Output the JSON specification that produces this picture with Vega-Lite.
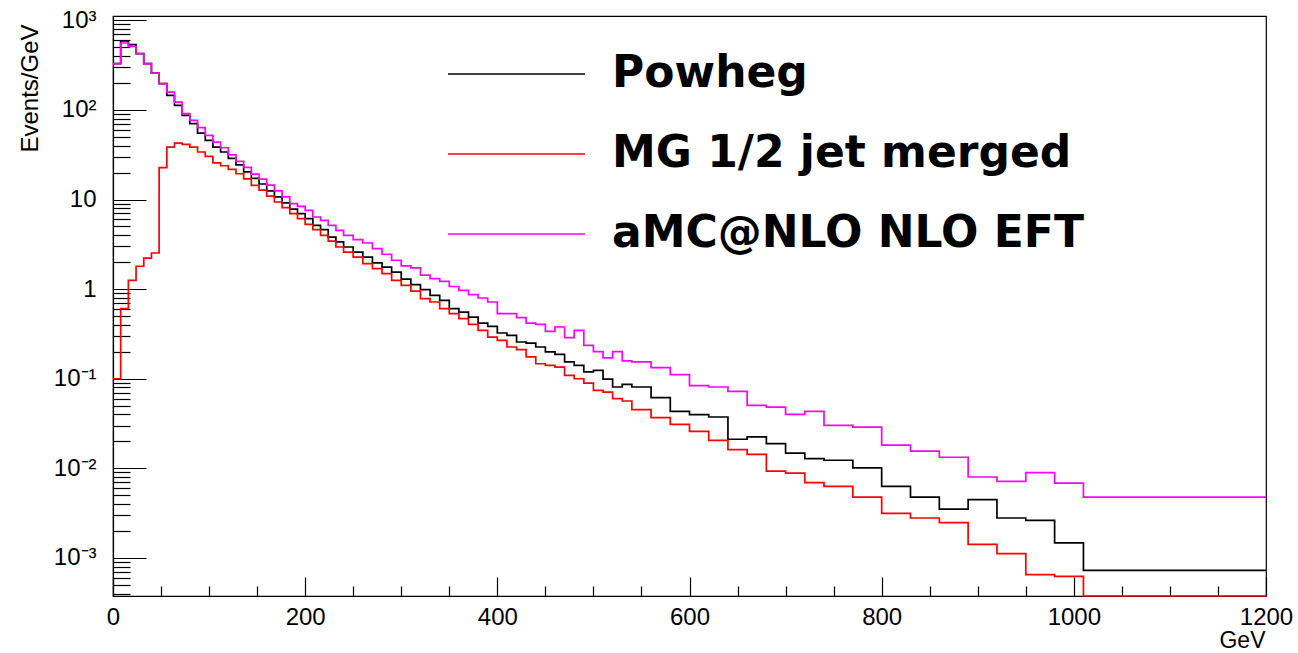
{
"$schema":"https://vega.github.io/schema/vega-lite/v6.json",
"width":1153,"height":580,
"autosize":{"type":"none"},
"padding":{"left":113,"top":16,"right":32,"bottom":57},
"background":"white",
"config":{"view":{"stroke":"#000","strokeWidth":1.2},"font":"Liberation Sans"},
"data":{"values":[
{"s":"Powheg","x":0,"y":329},{"s":"Powheg","x":8,"y":588},{"s":"Powheg","x":16,"y":536},{"s":"Powheg","x":24,"y":425},{"s":"Powheg","x":32,"y":329},{"s":"Powheg","x":40,"y":258},{"s":"Powheg","x":48,"y":197},{"s":"Powheg","x":56,"y":145.5},{"s":"Powheg","x":64,"y":112.5},{"s":"Powheg","x":72,"y":87},
{"s":"Powheg","x":80,"y":70.3},{"s":"Powheg","x":88,"y":55.2},{"s":"Powheg","x":96,"y":45.8},{"s":"Powheg","x":104,"y":38.5},{"s":"Powheg","x":112,"y":33.9},{"s":"Powheg","x":120,"y":28.8},{"s":"Powheg","x":128,"y":24.3},{"s":"Powheg","x":136,"y":20.3},{"s":"Powheg","x":144,"y":17.2},{"s":"Powheg","x":152,"y":14.9},
{"s":"Powheg","x":160,"y":12.5},{"s":"Powheg","x":168,"y":10.7},{"s":"Powheg","x":176,"y":9.19},{"s":"Powheg","x":184,"y":7.83},{"s":"Powheg","x":192,"y":6.96},{"s":"Powheg","x":200,"y":6.12},{"s":"Powheg","x":208,"y":5.15},{"s":"Powheg","x":216,"y":4.61},{"s":"Powheg","x":224,"y":3.81},{"s":"Powheg","x":232,"y":3.36},
{"s":"Powheg","x":240,"y":2.95},{"s":"Powheg","x":250,"y":2.59},{"s":"Powheg","x":260,"y":2.28},{"s":"Powheg","x":270,"y":1.96},{"s":"Powheg","x":280,"y":1.76},{"s":"Powheg","x":290,"y":1.55},{"s":"Powheg","x":300,"y":1.29},{"s":"Powheg","x":310,"y":1.12},{"s":"Powheg","x":320,"y":0.987},{"s":"Powheg","x":330,"y":0.853},
{"s":"Powheg","x":340,"y":0.75},{"s":"Powheg","x":350,"y":0.606},{"s":"Powheg","x":360,"y":0.555},{"s":"Powheg","x":370,"y":0.488},{"s":"Powheg","x":380,"y":0.418},{"s":"Powheg","x":390,"y":0.384},{"s":"Powheg","x":400,"y":0.324},{"s":"Powheg","x":410,"y":0.305},{"s":"Powheg","x":420,"y":0.257},{"s":"Powheg","x":430,"y":0.25},
{"s":"Powheg","x":440,"y":0.226},{"s":"Powheg","x":450,"y":0.199},{"s":"Powheg","x":460,"y":0.187},{"s":"Powheg","x":470,"y":0.154},{"s":"Powheg","x":480,"y":0.141},{"s":"Powheg","x":490,"y":0.119},{"s":"Powheg","x":500,"y":0.124},{"s":"Powheg","x":510,"y":0.0992},{"s":"Powheg","x":520,"y":0.0808},{"s":"Powheg","x":530,"y":0.0866},
{"s":"Powheg","x":540,"y":0.0808},{"s":"Powheg","x":560,"y":0.0615},{"s":"Powheg","x":580,"y":0.0433},{"s":"Powheg","x":600,"y":0.0398},{"s":"Powheg","x":620,"y":0.0374},{"s":"Powheg","x":640,"y":0.0211},{"s":"Powheg","x":660,"y":0.0224},{"s":"Powheg","x":680,"y":0.0189},{"s":"Powheg","x":700,"y":0.0148},{"s":"Powheg","x":720,"y":0.0128},
{"s":"Powheg","x":740,"y":0.0123},{"s":"Powheg","x":770,"y":0.0101},{"s":"Powheg","x":800,"y":0.0063},{"s":"Powheg","x":830,"y":0.00478},{"s":"Powheg","x":860,"y":0.00351},{"s":"Powheg","x":890,"y":0.00447},{"s":"Powheg","x":920,"y":0.00279},{"s":"Powheg","x":950,"y":0.00263},{"s":"Powheg","x":980,"y":0.00147},{"s":"Powheg","x":1010,"y":0.000727},{"s":"Powheg","x":1200,"y":0.000727},
{"s":"MG 1/2 jet merged","x":0,"y":0.1},{"s":"MG 1/2 jet merged","x":8,"y":0.606},{"s":"MG 1/2 jet merged","x":16,"y":1.25},{"s":"MG 1/2 jet merged","x":24,"y":1.8},{"s":"MG 1/2 jet merged","x":32,"y":2.22},{"s":"MG 1/2 jet merged","x":40,"y":2.53},{"s":"MG 1/2 jet merged","x":48,"y":22.7},{"s":"MG 1/2 jet merged","x":56,"y":38.5},{"s":"MG 1/2 jet merged","x":64,"y":42.7},{"s":"MG 1/2 jet merged","x":72,"y":41.3},
{"s":"MG 1/2 jet merged","x":80,"y":38.5},{"s":"MG 1/2 jet merged","x":88,"y":33.9},{"s":"MG 1/2 jet merged","x":96,"y":30.3},{"s":"MG 1/2 jet merged","x":104,"y":25.6},{"s":"MG 1/2 jet merged","x":112,"y":23.8},{"s":"MG 1/2 jet merged","x":120,"y":21.7},{"s":"MG 1/2 jet merged","x":128,"y":19.4},{"s":"MG 1/2 jet merged","x":136,"y":17.0},{"s":"MG 1/2 jet merged","x":144,"y":14.4},{"s":"MG 1/2 jet merged","x":152,"y":12.7},
{"s":"MG 1/2 jet merged","x":160,"y":10.9},{"s":"MG 1/2 jet merged","x":168,"y":9.38},{"s":"MG 1/2 jet merged","x":176,"y":8.12},{"s":"MG 1/2 jet merged","x":184,"y":6.96},{"s":"MG 1/2 jet merged","x":192,"y":6.12},{"s":"MG 1/2 jet merged","x":200,"y":5.29},{"s":"MG 1/2 jet merged","x":208,"y":4.61},{"s":"MG 1/2 jet merged","x":216,"y":3.98},{"s":"MG 1/2 jet merged","x":224,"y":3.44},{"s":"MG 1/2 jet merged","x":232,"y":2.95},
{"s":"MG 1/2 jet merged","x":240,"y":2.59},{"s":"MG 1/2 jet merged","x":250,"y":2.28},{"s":"MG 1/2 jet merged","x":260,"y":1.93},{"s":"MG 1/2 jet merged","x":270,"y":1.69},{"s":"MG 1/2 jet merged","x":280,"y":1.49},{"s":"MG 1/2 jet merged","x":290,"y":1.25},{"s":"MG 1/2 jet merged","x":300,"y":1.1},{"s":"MG 1/2 jet merged","x":310,"y":0.95},{"s":"MG 1/2 jet merged","x":320,"y":0.783},{"s":"MG 1/2 jet merged","x":330,"y":0.718},
{"s":"MG 1/2 jet merged","x":340,"y":0.606},{"s":"MG 1/2 jet merged","x":350,"y":0.533},{"s":"MG 1/2 jet merged","x":360,"y":0.469},{"s":"MG 1/2 jet merged","x":370,"y":0.405},{"s":"MG 1/2 jet merged","x":380,"y":0.347},{"s":"MG 1/2 jet merged","x":390,"y":0.292},{"s":"MG 1/2 jet merged","x":400,"y":0.268},{"s":"MG 1/2 jet merged","x":410,"y":0.226},{"s":"MG 1/2 jet merged","x":420,"y":0.211},{"s":"MG 1/2 jet merged","x":430,"y":0.175},
{"s":"MG 1/2 jet merged","x":440,"y":0.147},{"s":"MG 1/2 jet merged","x":450,"y":0.141},{"s":"MG 1/2 jet merged","x":460,"y":0.135},{"s":"MG 1/2 jet merged","x":470,"y":0.109},{"s":"MG 1/2 jet merged","x":480,"y":0.1},{"s":"MG 1/2 jet merged","x":490,"y":0.0895},{"s":"MG 1/2 jet merged","x":500,"y":0.0742},{"s":"MG 1/2 jet merged","x":510,"y":0.071},{"s":"MG 1/2 jet merged","x":520,"y":0.06},{"s":"MG 1/2 jet merged","x":530,"y":0.0564},
{"s":"MG 1/2 jet merged","x":540,"y":0.0452},{"s":"MG 1/2 jet merged","x":560,"y":0.0368},{"s":"MG 1/2 jet merged","x":580,"y":0.031},{"s":"MG 1/2 jet merged","x":600,"y":0.0259},{"s":"MG 1/2 jet merged","x":620,"y":0.0205},{"s":"MG 1/2 jet merged","x":640,"y":0.0162},{"s":"MG 1/2 jet merged","x":660,"y":0.0143},{"s":"MG 1/2 jet merged","x":680,"y":0.00933},{"s":"MG 1/2 jet merged","x":700,"y":0.00886},{"s":"MG 1/2 jet merged","x":720,"y":0.00692},
{"s":"MG 1/2 jet merged","x":740,"y":0.0063},{"s":"MG 1/2 jet merged","x":770,"y":0.00478},{"s":"MG 1/2 jet merged","x":800,"y":0.00315},{"s":"MG 1/2 jet merged","x":830,"y":0.00279},{"s":"MG 1/2 jet merged","x":860,"y":0.00248},{"s":"MG 1/2 jet merged","x":890,"y":0.00142},{"s":"MG 1/2 jet merged","x":920,"y":0.00112},{"s":"MG 1/2 jet merged","x":950,"y":0.000651},{"s":"MG 1/2 jet merged","x":980,"y":0.000623},{"s":"MG 1/2 jet merged","x":1010,"y":0.0001},{"s":"MG 1/2 jet merged","x":1200,"y":0.0001},
{"s":"aMC@NLO NLO EFT","x":0,"y":329},{"s":"aMC@NLO NLO EFT","x":8,"y":558},{"s":"aMC@NLO NLO EFT","x":16,"y":513},{"s":"aMC@NLO NLO EFT","x":24,"y":425},{"s":"aMC@NLO NLO EFT","x":32,"y":329},{"s":"aMC@NLO NLO EFT","x":40,"y":258},{"s":"aMC@NLO NLO EFT","x":48,"y":197},{"s":"aMC@NLO NLO EFT","x":56,"y":158},{"s":"aMC@NLO NLO EFT","x":64,"y":122},{"s":"aMC@NLO NLO EFT","x":72,"y":91},
{"s":"aMC@NLO NLO EFT","x":80,"y":76.5},{"s":"aMC@NLO NLO EFT","x":88,"y":63.4},{"s":"aMC@NLO NLO EFT","x":96,"y":52.1},{"s":"aMC@NLO NLO EFT","x":104,"y":43.8},{"s":"aMC@NLO NLO EFT","x":112,"y":37.8},{"s":"aMC@NLO NLO EFT","x":120,"y":31.5},{"s":"aMC@NLO NLO EFT","x":128,"y":26.6},{"s":"aMC@NLO NLO EFT","x":136,"y":22.8},{"s":"aMC@NLO NLO EFT","x":144,"y":19.2},{"s":"aMC@NLO NLO EFT","x":152,"y":16.9},
{"s":"aMC@NLO NLO EFT","x":160,"y":14.5},{"s":"aMC@NLO NLO EFT","x":168,"y":12.5},{"s":"aMC@NLO NLO EFT","x":176,"y":10.7},{"s":"aMC@NLO NLO EFT","x":184,"y":9.0},{"s":"aMC@NLO NLO EFT","x":192,"y":8.4},{"s":"aMC@NLO NLO EFT","x":200,"y":7.58},{"s":"aMC@NLO NLO EFT","x":208,"y":6.38},{"s":"aMC@NLO NLO EFT","x":216,"y":5.86},{"s":"aMC@NLO NLO EFT","x":224,"y":5.15},{"s":"aMC@NLO NLO EFT","x":232,"y":4.53},
{"s":"aMC@NLO NLO EFT","x":240,"y":3.98},{"s":"aMC@NLO NLO EFT","x":250,"y":3.57},{"s":"aMC@NLO NLO EFT","x":260,"y":3.27},{"s":"aMC@NLO NLO EFT","x":270,"y":2.83},{"s":"aMC@NLO NLO EFT","x":280,"y":2.45},{"s":"aMC@NLO NLO EFT","x":290,"y":2.1},{"s":"aMC@NLO NLO EFT","x":300,"y":1.82},{"s":"aMC@NLO NLO EFT","x":310,"y":1.73},{"s":"aMC@NLO NLO EFT","x":320,"y":1.43},{"s":"aMC@NLO NLO EFT","x":330,"y":1.31},
{"s":"aMC@NLO NLO EFT","x":340,"y":1.22},{"s":"aMC@NLO NLO EFT","x":350,"y":1.07},{"s":"aMC@NLO NLO EFT","x":360,"y":0.97},{"s":"aMC@NLO NLO EFT","x":370,"y":0.868},{"s":"aMC@NLO NLO EFT","x":380,"y":0.796},{"s":"aMC@NLO NLO EFT","x":390,"y":0.718},{"s":"aMC@NLO NLO EFT","x":400,"y":0.533},{"s":"aMC@NLO NLO EFT","x":410,"y":0.533},{"s":"aMC@NLO NLO EFT","x":420,"y":0.481},{"s":"aMC@NLO NLO EFT","x":430,"y":0.418},
{"s":"aMC@NLO NLO EFT","x":440,"y":0.405},{"s":"aMC@NLO NLO EFT","x":450,"y":0.338},{"s":"aMC@NLO NLO EFT","x":460,"y":0.378},{"s":"aMC@NLO NLO EFT","x":470,"y":0.288},{"s":"aMC@NLO NLO EFT","x":480,"y":0.347},{"s":"aMC@NLO NLO EFT","x":490,"y":0.236},{"s":"aMC@NLO NLO EFT","x":500,"y":0.201},{"s":"aMC@NLO NLO EFT","x":510,"y":0.171},{"s":"aMC@NLO NLO EFT","x":520,"y":0.201},{"s":"aMC@NLO NLO EFT","x":530,"y":0.158},
{"s":"aMC@NLO NLO EFT","x":540,"y":0.154},{"s":"aMC@NLO NLO EFT","x":560,"y":0.133},{"s":"aMC@NLO NLO EFT","x":580,"y":0.111},{"s":"aMC@NLO NLO EFT","x":600,"y":0.0838},{"s":"aMC@NLO NLO EFT","x":620,"y":0.0808},{"s":"aMC@NLO NLO EFT","x":640,"y":0.0724},{"s":"aMC@NLO NLO EFT","x":660,"y":0.0505},{"s":"aMC@NLO NLO EFT","x":680,"y":0.0483},{"s":"aMC@NLO NLO EFT","x":700,"y":0.0401},{"s":"aMC@NLO NLO EFT","x":720,"y":0.0433},
{"s":"aMC@NLO NLO EFT","x":740,"y":0.0302},{"s":"aMC@NLO NLO EFT","x":770,"y":0.0289},{"s":"aMC@NLO NLO EFT","x":800,"y":0.0182},{"s":"aMC@NLO NLO EFT","x":830,"y":0.0156},{"s":"aMC@NLO NLO EFT","x":860,"y":0.0133},{"s":"aMC@NLO NLO EFT","x":890,"y":0.008},{"s":"aMC@NLO NLO EFT","x":920,"y":0.00716},{"s":"aMC@NLO NLO EFT","x":950,"y":0.00895},{"s":"aMC@NLO NLO EFT","x":980,"y":0.00685},{"s":"aMC@NLO NLO EFT","x":1010,"y":0.00478},{"s":"aMC@NLO NLO EFT","x":1200,"y":0.00478}
]},
"mark":{"type":"line","interpolate":"step-after","strokeWidth":1.7,"clip":false},
"encoding":{
"x":{"field":"x","type":"quantitative",
 "scale":{"domain":[0,1200],"nice":false,"zero":false},
 "axis":{"title":"GeV","titleFont":"Liberation Sans","titleFontSize":23,"titleFontWeight":"normal","titleColor":"#000","titleAlign":"right","titleAnchor":"end","titleBaseline":"alphabetic","titleX":1152,"titleY":51,
  "values":[0,50,100,150,200,250,300,350,400,450,500,550,600,650,700,750,800,850,900,950,1000,1050,1100,1150,1200],
  "format":"d","labelExpr":"datum.value % 200 === 0 ? datum.label : ''",
  "labelFont":"Liberation Sans","labelFontSize":24,"labelColor":"#000","labelPadding":28,"labelFlush":false,"labelOverlap":false,
  "tickColor":"#000","tickWidth":1.2,
  "tickSize":{"condition":{"test":"datum.value % 200 === 0","value":-19},"value":-10},
  "domainColor":"#000","domainWidth":1.2,"grid":false}},
"y":{"field":"y","type":"quantitative",
 "scale":{"type":"log","domain":[0.000376,1117],"nice":false,"clamp":true},
 "axis":{"title":"Events/GeV","titleFont":"Liberation Sans","titleFontSize":24,"titleFontWeight":"normal","titleColor":"#000","titleAngle":270,"titleAlign":"right","titleBaseline":"alphabetic","titleX":-76,"titleY":8,
  "values":[0.0004,0.0005,0.0006,0.0007,0.0008,0.0009,0.001,0.002,0.003,0.004,0.005,0.006,0.007,0.008,0.009,0.01,0.02,0.03,0.04,0.05,0.06,0.07,0.08,0.09,0.1,0.2,0.3,0.4,0.5,0.6,0.7,0.8,0.9,1,2,3,4,5,6,7,8,9,10,20,30,40,50,60,70,80,90,100,200,300,400,500,600,700,800,900,1000],
  "labelExpr":"abs(log(datum.value)/LN10 - round(log(datum.value)/LN10)) < 0.000001 ? ['10⁻³','10⁻²','10⁻¹','1','10','10²','10³'][round(log(datum.value)/LN10)+3] : ''",
  "labelFont":"Liberation Sans","labelFontSize":24,"labelColor":"#000","labelPadding":50,"labelFlush":false,"labelOverlap":false,
  "tickColor":"#000","tickWidth":1.2,
  "tickSize":{"condition":{"test":"abs(log(datum.value)/LN10 - round(log(datum.value)/LN10)) < 0.000001","value":-33},"value":-17},
  "domainColor":"#000","domainWidth":1.2,"grid":false}},
"color":{"field":"s","type":"nominal",
 "scale":{"domain":["Powheg","MG 1/2 jet merged","aMC@NLO NLO EFT"],"range":["#000000","#ff0000","#ff00ff"]},
 "legend":{"orient":"none","legendX":450,"legendY":36,"title":null,"padding":0,
  "symbolType":"M-10,0H0","symbolSize":751,"symbolStrokeWidth":1.5,
  "labelFont":"DejaVu Sans","labelFontWeight":"bold","labelFontSize":44,"labelColor":"#000","labelLimit":0,"labelOffset":5,"rowPadding":36}}
}
}
